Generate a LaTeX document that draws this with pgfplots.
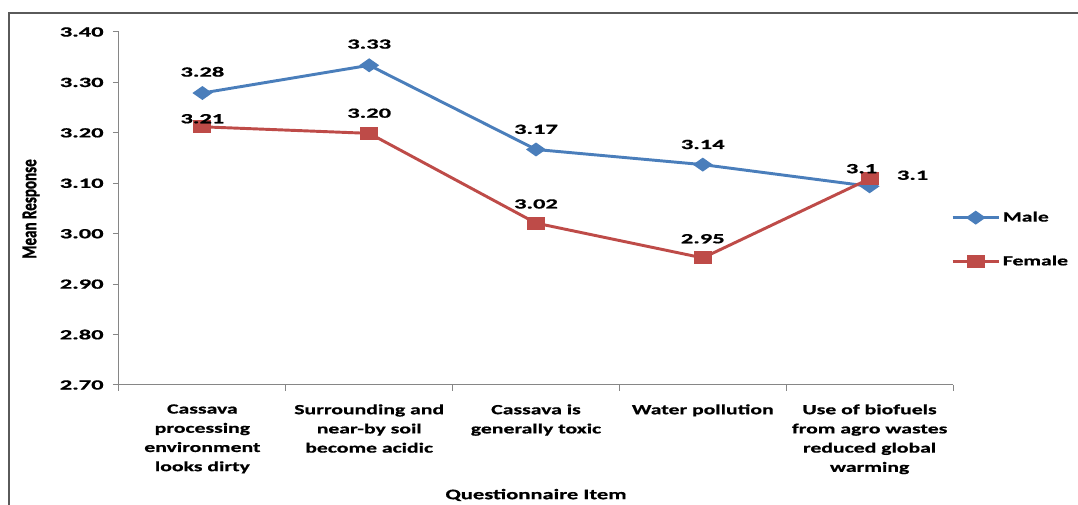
\documentclass[border=0pt]{standalone}
\usepackage{graphicx}
\usepackage{pgfplots}
\usepackage{pgfplotstable}
\pgfplotsset{compat=1.18}
\usepackage{fontspec}
\setmainfont{Carlito}
\newfontfamily\widefont{Carlito}[FakeStretch=1.55, FakeBold=0.8]
\newfontfamily\numfont{Carlito}[FakeStretch=1.75, FakeBold=0.8]
\newfontfamily\ylabfont{Carlito}[FakeBold=1.6]
\definecolor{maleblue}{HTML}{4A7EBB}
\definecolor{femalered}{HTML}{BE4B48}
\definecolor{axisgray}{HTML}{868686}
\definecolor{framegray}{HTML}{5A5A5A}

% item index, mean response, printed label, label position (axis units)
\pgfplotstableread{
x y     lbl  lx     ly
0 3.279 3.28 0      3.321
1 3.334 3.33 1      3.376
2 3.167 3.17 2      3.207
3 3.137 3.14 3      3.177
4 3.094 3.1  4.258  3.116
}\maledata
\pgfplotstableread{
x y     lbl  lx     ly
0 3.212 3.21 0      3.228
1 3.199 3.20 1      3.239
2 3.021 3.02 2      3.059
3 2.952 2.95 3      2.990
4 3.109 3.1  3.952  3.129
}\femaledata

\newcommand\lblfont{\widefont\fontsize{10.5}{14.4}\selectfont\bfseries}
\newcommand\valfont{\numfont\fontsize{10.5}{12}\selectfont\bfseries}

\pgfplotsset{
  value labels/.style={
    forget plot, draw=none, mark=none,
    point meta=explicit symbolic,
    nodes near coords,
    every node near coord/.append style={anchor=center, font=\valfont, text=black},
  },
}

\begin{document}
\begin{tikzpicture}
\useasboundingbox (0,0) rectangle (808.5pt,378.75pt);
\draw[framegray, line width=1.5pt] (6.75pt,-2pt) -- (6.75pt,369pt) -- (812pt,369pt);
\begin{axis}[
  at={(89.25pt,90pt)}, anchor=south west,
  scale only axis, width=625.5pt, height=264.75pt,
  xmin=-0.5, xmax=4.5, ymin=2.7, ymax=3.4,
  axis x line*=bottom, axis y line*=left,
  axis line style={axisgray, line width=0.75pt},
  ytick={2.7,2.8,2.9,3.0,3.1,3.2,3.3,3.4},
  yticklabel style={/pgf/number format/.cd, fixed, fixed zerofill, precision=2,
                    /tikz/.cd, font=\valfont, xshift=-3.5pt},
  /pgf/number format/assume math mode=true,
  tick label style={font=\lblfont, text=black},
  tick align=outside, major tick length=4.5pt,
  y tick style={axisgray, line width=0.75pt},
  xtick={0,1,2,3,4}, x tick style={draw=none},
  xticklabels={{Cassava\\processing\\environment\\looks dirty},
               {Surrounding and\\near-by soil\\become acidic},
               {Cassava is\\generally toxic},
               {Water pollution},
               {Use of biofuels\\from agro wastes\\reduced global\\warming}},
  xticklabel style={align=center, anchor=north, yshift=-6.5pt},
  xlabel={Questionnaire Item},
  xlabel style={at={(axis description cs:0.5,-0.3116)}, anchor=center,
                font=\widefont\fontsize{10.9}{12}\selectfont\bfseries},
  ylabel={\scalebox{1}[1.4]{Mean Response}},
  ylabel style={at={(axis description cs:-0.1055,0.4986)}, anchor=center,
                font=\ylabfont\fontsize{11.3}{12}\selectfont\bfseries},
  legend style={at={(axis description cs:0.9976,0.412)}, anchor=west,
                draw=none, fill=none, inner xsep=0pt, inner ysep=0pt,
                row sep=20pt, font=\lblfont},
  legend cell align=left,
  legend image code/.code={%
    \draw[mark repeat=2, mark phase=2] plot coordinates {(0pt,0pt) (17.25pt,0pt) (34.5pt,0pt)};},
  clip=false,
]
\pgfplotsinvokeforeach{-0.5,0.5,1.5,2.5,3.5,4.5}{
  \draw[axisgray, line width=0.75pt] (axis cs:#1,2.7) -- ++(0pt,-4.5pt);
}
\addplot[color=maleblue, line width=2.2pt, mark=diamond*, mark size=3.9pt,
         mark options={xscale=1.9, solid, fill=maleblue}]
  table[x=x, y=y] {\maledata};
\addlegendentry{Male}
\addplot[color=femalered, line width=2.2pt, mark=square*, mark size=3.8pt,
         mark options={xscale=1.5, solid, fill=femalered}]
  table[x=x, y=y] {\femaledata};
\addlegendentry{Female}
\addplot[value labels] table[x=lx, y=ly, meta=lbl] {\maledata};
\addplot[value labels] table[x=lx, y=ly, meta=lbl] {\femaledata};
\end{axis}
\end{tikzpicture}
\end{document}
